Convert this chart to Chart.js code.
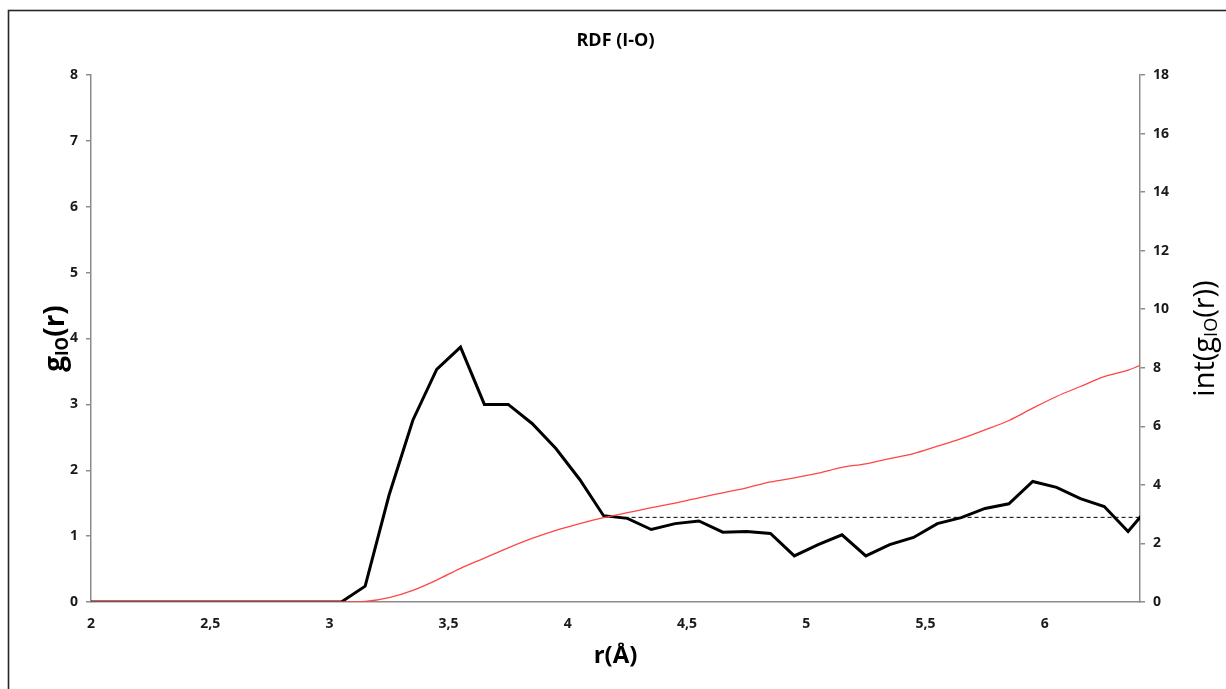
<!DOCTYPE html>
<html>
<head>
<meta charset="utf-8">
<script src="https://cdn.jsdelivr.net/npm/chart.js@4.4.1/dist/chart.umd.min.js"></script>
<style>
  html, body { margin: 0; padding: 0; background: #fff; }
  #wrap { width: 1226px; height: 689px; position: relative; }
</style>
</head>
<body>
<div id="wrap"><canvas id="rdf"></canvas></div>
<script>
// RDF (I-O)
const rValues = [1.95, 2.05, 2.15, 2.25, 2.35, 2.45, 2.55, 2.65, 2.75, 2.85, 2.95, 3.05,
  3.15, 3.25, 3.35, 3.45, 3.55, 3.65, 3.75, 3.85, 3.95, 4.05, 4.15, 4.25, 4.35, 4.45,
  4.55, 4.65, 4.75, 4.85, 4.95, 5.05, 5.15, 5.25, 5.35, 5.45, 5.55, 5.65, 5.75, 5.85,
  5.95, 6.05, 6.15, 6.25, 6.35, 6.45];
const gIO = [0, 0, 0, 0, 0, 0, 0, 0, 0, 0, 0, 0,
  0.24, 1.62, 2.76, 3.53, 3.87, 3.00, 3.00, 2.71, 2.33, 1.86, 1.31, 1.27, 1.10, 1.19,
  1.23, 1.06, 1.07, 1.04, 0.70, 0.87, 1.02, 0.70, 0.87, 0.98, 1.19, 1.28, 1.42, 1.49,
  1.83, 1.74, 1.57, 1.45, 1.07, 1.50];
const intGIO = [0, 0, 0, 0, 0, 0, 0, 0, 0, 0, 0, 0,
  0.02, 0.15, 0.40, 0.75, 1.15, 1.50, 1.85, 2.17, 2.45, 2.68, 2.88, 3.05, 3.22, 3.38,
  3.56, 3.73, 3.90, 4.10, 4.24, 4.40, 4.60, 4.72, 4.90, 5.07, 5.32, 5.58, 5.88, 6.20,
  6.62, 7.02, 7.36, 7.70, 7.92, 8.26];
// linha tracejada de referência
const refX = [4.15, 6.4];
const refY = [1.285, 1.285];

const toPoints = (xs, ys) => xs.map((x, i) => ({ x: x, y: ys[i] }));
const comma = v => String(v).replace('.', ',');
const FONT = '"Open Sans", Lato, sans-serif';
const axisGray = '#8c8c8c';

// Moldura, título e títulos dos eixos (com subscrito)
const decorations = {
  id: 'decorations',
  beforeDraw(chart) {
    const ctx = chart.ctx;
    ctx.save();
    ctx.fillStyle = '#fff';
    ctx.fillRect(0, 0, chart.width, chart.height);
    ctx.strokeStyle = '#262626';
    ctx.lineWidth = 1.6;
    ctx.strokeRect(8.5, 10.5, 1400, 900);
    ctx.restore();
  },
  afterDraw(chart) {
    const ctx = chart.ctx;
    const a = chart.chartArea;
    const cx = (a.left + a.right) / 2;
    const cy = (a.top + a.bottom) / 2;
    ctx.save();
    ctx.fillStyle = '#000';
    ctx.textAlign = 'center';
    ctx.textBaseline = 'middle';

    ctx.font = 'bold 18px ' + FONT;
    ctx.fillText('RDF (I-O)', cx, 41);

    ctx.font = 'bold 24px ' + FONT;
    ctx.fillText('r(Å)', cx, 656);

    drawSub(ctx, 55, cy, [['g', 0], ['IO', 1], ['(r)', 0]], 'bold', 28);
    drawSub(ctx, 1204, cy, [['int(g', 0], ['IO', 1], ['(r))', 0]], 'normal', 29);
    ctx.restore();
  }
};

function drawSub(ctx, x, y, parts, weight, size) {
  const subSize = Math.round(size * 0.62);
  let total = 0;
  parts.forEach(([t, sub]) => {
    ctx.font = weight + ' ' + (sub ? subSize : size) + 'px ' + FONT;
    total += ctx.measureText(t).width;
  });
  ctx.save();
  ctx.translate(x, y);
  ctx.rotate(-Math.PI / 2);
  ctx.textAlign = 'left';
  ctx.textBaseline = 'alphabetic';
  let pos = -total / 2;
  parts.forEach(([t, sub]) => {
    ctx.font = weight + ' ' + (sub ? subSize : size) + 'px ' + FONT;
    ctx.fillText(t, pos, sub ? size * 0.45 : size * 0.33);
    pos += ctx.measureText(t).width;
  });
  ctx.restore();
}

const tickFont = { family: FONT, size: 14, weight: 'bold' };

new Chart(document.getElementById('rdf'), {
  type: 'line',
  data: {
    datasets: [
      {
        label: 'int(gIO(r))',
        data: toPoints(rValues, intGIO),
        yAxisID: 'y2',
        borderColor: 'rgb(255, 70, 70)',
        borderWidth: 1.3,
        pointRadius: 0,
        tension: 0.4,
        cubicInterpolationMode: 'monotone',
        order: 0
      },
      {
        label: 'gIO(r)',
        data: toPoints(rValues, gIO),
        yAxisID: 'y',
        borderColor: '#000',
        borderWidth: 3,
        pointRadius: 0,
        tension: 0,
        order: 1
      },
      {
        label: 'ref',
        data: toPoints(refX, refY),
        yAxisID: 'y',
        borderColor: '#000',
        borderWidth: 1,
        borderDash: [4, 3],
        pointRadius: 0,
        order: 2
      }
    ]
  },
  options: {
    responsive: true,
    maintainAspectRatio: false,
    animation: false,
    layout: { padding: { top: 75, left: 0, right: 0, bottom: 0 } },
    plugins: {
      legend: { display: false },
      tooltip: { enabled: false },
      title: { display: false }
    },
    scales: {
      x: {
        type: 'linear',
        min: 2,
        max: 6.4,
        afterFit: s => { s.height = 87; },
        afterBuildTicks: s => { s.ticks = s.ticks.filter(t => Math.abs(t.value * 2 - Math.round(t.value * 2)) < 1e-6); },
        border: { display: true, color: axisGray, width: 1.5 },
        grid: { display: false },
        ticks: {
          stepSize: 0.5,
          color: '#1a1a1a',
          font: tickFont,
          padding: 6,
          maxRotation: 0,
          callback: v => comma(v)
        }
      },
      y: {
        position: 'left',
        min: 0,
        max: 8,
        afterFit: s => { s.width = 91; },
        border: { display: true, color: axisGray, width: 1.5 },
        grid: { drawOnChartArea: false, drawTicks: true, tickLength: 5, color: axisGray, lineWidth: 1.5 },
        ticks: { stepSize: 1, color: '#1a1a1a', font: tickFont, padding: 8 }
      },
      y2: {
        position: 'right',
        min: 0,
        max: 18,
        afterFit: s => { s.width = 86; },
        border: { display: true, color: axisGray, width: 1.5 },
        grid: { drawOnChartArea: false, drawTicks: true, tickLength: 5, color: axisGray, lineWidth: 1.5 },
        ticks: { stepSize: 2, color: '#1a1a1a', font: tickFont, padding: 8 }
      }
    }
  },
  plugins: [decorations]
});
</script>
</body>
</html>
